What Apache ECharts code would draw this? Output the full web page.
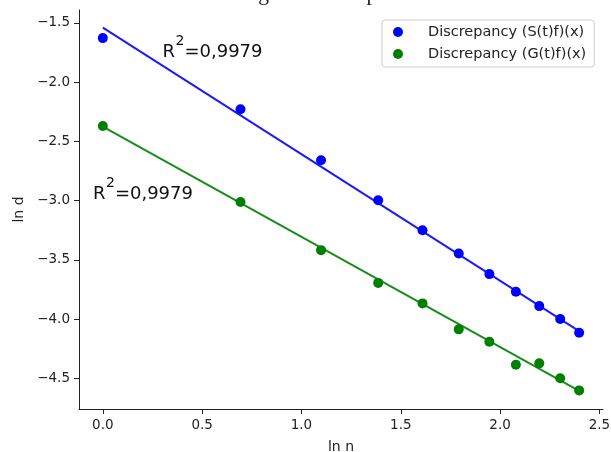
<!DOCTYPE html>
<html>
<head>
<meta charset="utf-8">
<script src="https://cdn.jsdelivr.net/npm/echarts@6/dist/echarts.min.js"></script>
<style>
html,body{margin:0;padding:0;background:#fff;}
#c{width:611px;height:452px;}
</style>
</head>
<body>
<div id="c"></div>
<script>
// ---- data ----
const lnN = [0, 0.6931, 1.0986, 1.3863, 1.6094, 1.7918, 1.9459, 2.0794, 2.1972, 2.3026, 2.3979];
const blueVals = [-1.628, -2.229, -2.659, -2.996, -3.249, -3.445, -3.619, -3.768, -3.889, -3.998, -4.114];
const greenVals = [-2.370, -3.010, -3.417, -3.693, -3.866, -4.085, -4.190, -4.384, -4.372, -4.498, -4.600];
const fitX = [0, 2.3979];
const blueFitY = [-1.54, -4.10];
const greenFitY = [-2.375, -4.605];
const xTicks = [0, 0.5, 1.0, 1.5, 2.0, 2.5];
const yTicks = [-4.5, -4.0, -3.5, -3.0, -2.5, -2.0, -1.5];
const seriesNames = ['Discrepancy (S(t)f)(x)', 'Discrepancy (G(t)f)(x)'];
const titleText = 'Logarithmic dependence';
const r2Text = '=0,9979';
const annotations = [[0.3, -1.8], [-0.05, -3.0]];

const zip = (xs, ys) => xs.map((x, i) => [x, ys[i]]);
const fmt = v => v.toFixed(1).replace('-', '\u2212');
const font = 'DejaVu Sans';
const axisColor = '#222';

const chart = echarts.init(document.getElementById('c'), null, {renderer: 'canvas'});
chart.setOption({
  animation: false,
  grid: {left: 79, right: 8, top: 10, bottom: 43, containLabel: false, outerBoundsMode: 'none'},
  legend: {
    data: seriesNames.map(n => ({name: n, icon: 'circle'})),
    orient: 'vertical',
    left: 382, top: 20,
    itemWidth: 10, itemHeight: 10, itemGap: 6,
    padding: [4, 8, 5, 11],
    borderColor: '#cccccc', borderWidth: 1, borderRadius: 3,
    backgroundColor: '#fff',
    textStyle: {fontFamily: font, fontSize: 14.5, color: '#222', lineHeight: 16, padding: [0, 0, 0, 20]}
  },
  xAxis: {
    type: 'value', min: -0.12, max: 2.518,
    name: 'ln n', nameLocation: 'middle', nameGap: 31,
    nameTextStyle: {fontFamily: font, fontSize: 14, color: '#222'},
    axisLine: {show: true, lineStyle: {color: axisColor, width: 1}},
    axisTick: {show: true, length: 5, inside: false, customValues: xTicks, lineStyle: {color: axisColor}},
    axisLabel: {customValues: xTicks, formatter: fmt, fontFamily: font, fontSize: 13.5, color: '#222', margin: 9},
    splitLine: {show: false}
  },
  yAxis: {
    type: 'value', min: -4.757, max: -1.391,
    name: 'ln d', nameLocation: 'middle', nameGap: 53, nameRotate: 90,
    nameTextStyle: {fontFamily: font, fontSize: 14, color: '#222'},
    axisLine: {show: true, onZero: false, lineStyle: {color: axisColor, width: 1}},
    axisTick: {show: true, length: 5, inside: false, customValues: yTicks, lineStyle: {color: axisColor}},
    axisLabel: {customValues: yTicks, formatter: fmt, fontFamily: font, fontSize: 13.5, color: '#222', margin: 9},
    splitLine: {show: false}
  },
  series: [
    {name: 'blueFit', type: 'line', data: zip(fitX, blueFitY), showSymbol: false, symbol: 'none',
     lineStyle: {color: '#1a1aff', width: 2}, z: 2, silent: true},
    {name: 'greenFit', type: 'line', data: zip(fitX, greenFitY), showSymbol: false, symbol: 'none',
     lineStyle: {color: '#1a8c1a', width: 2}, z: 2, silent: true},
    {name: seriesNames[0], type: 'scatter', data: zip(lnN, blueVals), symbol: 'circle', symbolSize: 10,
     itemStyle: {color: '#0000ff', opacity: 1}, z: 3},
    {name: seriesNames[1], type: 'scatter', data: zip(lnN, greenVals), symbol: 'circle', symbolSize: 10,
     itemStyle: {color: '#008000', opacity: 1}, z: 3}
  ]
});

// annotations and title placed from data coordinates
const graphics = [{type: 'text', x: 341, y: 5,
  style: {text: titleText, align: 'center', verticalAlign: 'bottom', font: '21.5px "Liberation Serif"', fill: '#222'}}];
annotations.forEach((a) => {
  const p = chart.convertToPixel({gridIndex: 0}, a);
  const by = p[1] + 3;
  graphics.push({type: 'text', x: p[0], y: by,
    style: {text: 'R', verticalAlign: 'bottom', font: '18px "DejaVu Sans"', fill: '#111'}});
  graphics.push({type: 'text', x: p[0] + 13, y: by - 13,
    style: {text: '2', verticalAlign: 'bottom', font: '14px "DejaVu Sans"', fill: '#111'}});
  graphics.push({type: 'text', x: p[0] + 22, y: by,
    style: {text: r2Text, verticalAlign: 'bottom', font: '18px "DejaVu Sans"', fill: '#111'}});
});
chart.setOption({graphic: graphics});
</script>
</body>
</html>
